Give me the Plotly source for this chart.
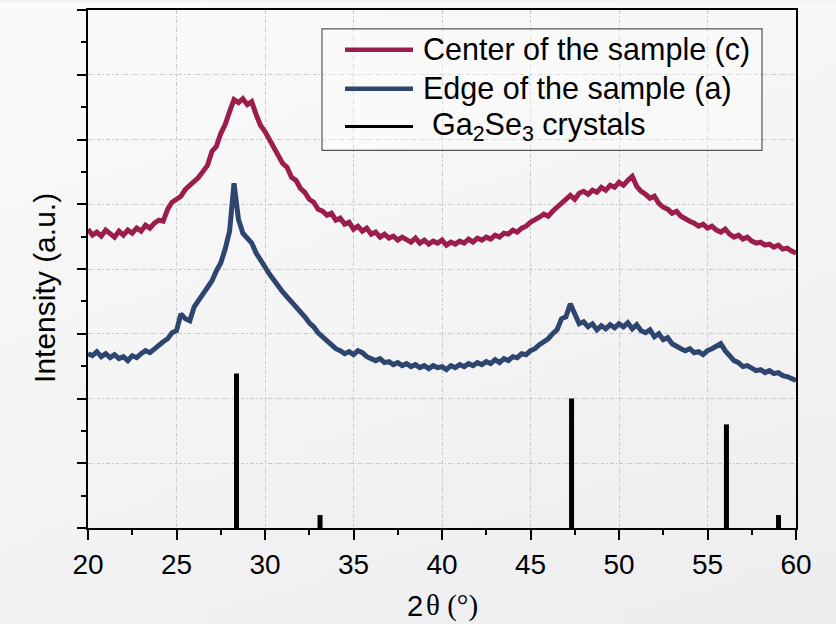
import zlib, struct, base64
import numpy as np
import plotly.graph_objects as go

# ---------------- data ----------------
two_theta = np.arange(161) * 0.25 + 20.0   # 20 .. 60 deg, step 0.25

center_c = [
    300, 294, 297, 293,  299, 295, 292, 298,  294, 299, 296, 301,  298, 304, 301, 306,   # 20-23.75
    309, 308, 320, 327,  330, 333, 340, 344,  348, 352, 358, 364,  378, 383, 396, 405,   # 24-27.75
    418, 430, 427, 431,  425, 428, 415, 404,  398, 390, 384, 375,  366, 362, 352, 349,   # 28-31.75
    341, 337, 330, 327,  320, 318, 314, 316,  309, 311, 305, 307,  300, 303, 298, 301,   # 32-35.75
    295, 297, 292, 295,  291, 293, 289, 292,  290, 287, 291, 286,  289, 285, 288, 286,   # 36-39.75
    289, 284, 287, 285,  288, 286, 290, 287,  291, 289, 292, 290,  294, 292, 296, 295,   # 40-43.75
    299, 297, 301, 303,  307, 309, 312, 315,  313, 318, 322, 325,  329, 334, 330, 336,   # 44-47.75
    338, 335, 339, 337,  342, 339, 344, 342,  347, 344, 349, 353,  343, 338, 335, 331,   # 48-51.75
    333, 326, 322, 320,  316, 318, 313, 310,  308, 306, 303, 305,  301, 303, 299, 297,   # 52-55.75
    300, 295, 292, 294,  290, 292, 288, 286,  287, 284, 285, 282,  284, 280, 281, 278,   # 56-59.75
    276,                                                                                # 60
]

edge_a = [
    175, 173, 177, 172,  175, 171, 174, 170,  172, 168, 173, 171,  175, 178, 176, 180,   # 20-23.75
    183, 187, 190, 196,  198, 215, 210, 208,  222, 228, 235, 241,  248, 258, 266, 280,   # 24-27.75
    298, 346, 310, 296,  290, 286, 276, 268,  262, 255, 248, 243,  237, 232, 227, 222,   # 28-31.75
    218, 212, 206, 202,  196, 192, 188, 185,  180, 178, 175, 177,  174, 178, 176, 172,   # 32-35.75
    170, 168, 170, 166,  167, 164, 166, 163,  165, 162, 164, 161,  163, 160, 163, 161,   # 36-39.75
    162, 159, 163, 161,  164, 162, 165, 163,  166, 164, 167, 165,  169, 166, 170, 168,   # 40-43.75
    172, 171, 175, 174,  178, 180, 184, 187,  190, 195, 199, 210,  212, 225, 214, 205,   # 44-47.75
    207, 202, 205, 199,  203, 200, 204, 201,  205, 202, 206, 200,  204, 198, 196, 199,   # 48-51.75
    192, 195, 189, 191,  185, 182, 180, 178,  180, 176, 177, 174,  178, 180, 183, 185,   # 52-55.75
    178, 172, 168, 166,  162, 163, 160, 158,  159, 156, 158, 155,  156, 153, 152, 150,   # 56-59.75
    148,                                                                                # 60
]

ga2se3_pos = [28.39, 33.11, 47.32, 56.07, 59.01]
ga2se3_int = [155, 13, 130, 104, 13]

names = ["Center of the sample (c)", "Edge of the sample (a)", "Ga<sub>2</sub>Se<sub>3</sub> crystals"]
x_ticks = [20, 25, 30, 35, 40, 45, 50, 55, 60]

# ---------------- background gradient (decoration) ----------------
def gradient_png(w, h):
    rows = []
    for j in range(h):
        v = j / (h - 1)
        row = bytearray([0])
        for i in range(w):
            u = i / (w - 1)
            g = 251 - 9.0 * v - 4.0 * u
            row += bytes([int(g), int(g), int(min(255, g + 2.0 * v))])
        rows.append(bytes(row))
    raw = b"".join(rows)

    def chunk(t, d):
        return struct.pack(">I", len(d)) + t + d + struct.pack(">I", zlib.crc32(t + d) & 0xFFFFFFFF)

    return (b"\x89PNG\r\n\x1a\n"
            + chunk(b"IHDR", struct.pack(">IIBBBBB", w, h, 8, 2, 0, 0, 0))
            + chunk(b"IDAT", zlib.compress(raw, 9))
            + chunk(b"IEND", b""))

bg_uri = "data:image/png;base64," + base64.b64encode(gradient_png(84, 63)).decode()

# ---------------- figure ----------------
RED = "#9a1d4b"
BLUE = "#2d456f"
FONT = "Arial, Liberation Sans, sans-serif"
SERIF = "Times New Roman, Liberation Serif, serif"
NARROW = "Liberation Sans Narrow, Arial Narrow, Liberation Sans, sans-serif"
colors = [RED, BLUE, "black"]

# plot-area pixel geometry (for legend / title placement in paper coordinates)
PL, PR, PT, PB = 88, 796, 8, 528
def px(xp):
    return (xp - PL) / (PR - PL)
def py(yp):
    return (PB - yp) / (PB - PT)

stick_x, stick_y = [], []
for p, h in zip(ga2se3_pos, ga2se3_int):
    stick_x += [p, p, None]
    stick_y += [0, h, None]

fig = go.Figure()
fig.add_trace(go.Scatter(x=two_theta, y=center_c, mode="lines", name=names[0],
                         line=dict(color=RED, width=5), showlegend=False))
fig.add_trace(go.Scatter(x=two_theta, y=edge_a, mode="lines", name=names[1],
                         line=dict(color=BLUE, width=5), showlegend=False))
fig.add_trace(go.Scatter(x=stick_x, y=stick_y, mode="lines", name=names[2],
                         line=dict(color="black", width=5), showlegend=False))

# ---- legend (box, sample lines, labels) ----
shapes = [dict(type="rect", xref="paper", yref="paper",
               x0=px(322), x1=px(762), y0=py(149), y1=py(27),
               line=dict(color="#555555", width=1.2), fillcolor="rgba(255,255,255,0.35)",
               layer="above")]
annotations = []
row_y = [48, 87, 125]
text_x = [421, 421, 430]
line_w = [4.5, 4.5, 3]
for name, col, ry, tx, lw in zip(names, colors, row_y, text_x, line_w):
    shapes.append(dict(type="line", xref="paper", yref="paper",
                       x0=px(345), x1=px(413), y0=py(ry), y1=py(ry),
                       line=dict(color=col, width=lw), layer="above"))
    annotations.append(dict(text=name, xref="paper", yref="paper",
                            x=px(tx), y=py(ry), xanchor="left", yanchor="middle",
                            showarrow=False, font=dict(size=30.5, family=FONT, color="black")))

# axis titles (placed to match the reference position; x title mixes sans "2" and serif "θ (°)")
annotations.append(dict(text="Intensity (a.u.)", xref="paper", yref="paper",
                        x=px(45), y=py(287), xanchor="center", yanchor="middle",
                        textangle=-90, showarrow=False,
                        font=dict(size=30, family=FONT, color="black")))
annotations.append(dict(text="2", xref="paper", yref="paper",
                        x=px(425), y=py(606), xanchor="right", yanchor="middle",
                        showarrow=False, font=dict(size=29, family=FONT, color="black")))
annotations.append(dict(text="θ (°)", xref="paper", yref="paper",
                        x=px(424), y=py(606), xanchor="left", yanchor="middle",
                        showarrow=False, font=dict(size=29, family=SERIF, color="black")))

grid_dash = "4px,2px,1px,2px"

fig.update_layout(
    width=836, height=624, autosize=False,
    margin=dict(l=PL, r=836 - PR, t=PT, b=624 - PB),
    paper_bgcolor="#f2f2f4",
    plot_bgcolor="rgba(0,0,0,0)",
    font=dict(family=FONT, color="black"),
    showlegend=False,
    shapes=shapes,
    annotations=annotations,
    xaxis=dict(range=[20, 60], tickmode="array", tickvals=x_ticks,
               ticks="outside", ticklen=10, tickwidth=2, tickcolor="black",
               showline=True, linewidth=2, linecolor="black", mirror=True,
               showgrid=True, gridcolor="#c8c8c8", gridwidth=1, griddash=grid_dash,
               zeroline=False, tickfont=dict(size=28, family=NARROW),
               minor=dict(ticks="outside", ticklen=5, tickwidth=2, tickcolor="black",
                          dtick=2.5, tick0=20, showgrid=False)),
    yaxis=dict(range=[0, 520], dtick=65, tick0=0,
               ticks="outside", ticklen=9, tickwidth=2, tickcolor="black",
               showticklabels=False,
               showline=True, linewidth=2, linecolor="black", mirror=True,
               showgrid=True, gridcolor="#c8c8c8", gridwidth=1, griddash=grid_dash,
               zeroline=False,
               minor=dict(ticks="outside", ticklen=5, tickwidth=2, tickcolor="black",
                          dtick=32.5, tick0=0, showgrid=False)),
    xaxis2=dict(overlaying="x", side="top", anchor="y", range=[20, 60],
                tickmode="array", tickvals=x_ticks, showticklabels=False,
                ticks="inside", ticklen=8, tickwidth=2, tickcolor="black",
                showgrid=False, zeroline=False, showline=False,
                minor=dict(ticks="inside", ticklen=4, tickwidth=2, tickcolor="black",
                           dtick=2.5, tick0=20, showgrid=False)),
    yaxis2=dict(overlaying="y", side="right", anchor="x", range=[0, 520],
                dtick=65, tick0=0, showticklabels=False,
                ticks="inside", ticklen=8, tickwidth=2, tickcolor="black",
                showgrid=False, zeroline=False, showline=False,
                minor=dict(ticks="inside", ticklen=4, tickwidth=2, tickcolor="black",
                           dtick=32.5, tick0=0, showgrid=False)),
    images=[dict(source=bg_uri, xref="paper", yref="paper",
                 x=-PL / (PR - PL), y=1 + PT / (PB - PT),
                 sizex=836 / (PR - PL), sizey=624 / (PB - PT),
                 xanchor="left", yanchor="top", sizing="stretch", layer="below")],
)

fig.write_html("out.html")
